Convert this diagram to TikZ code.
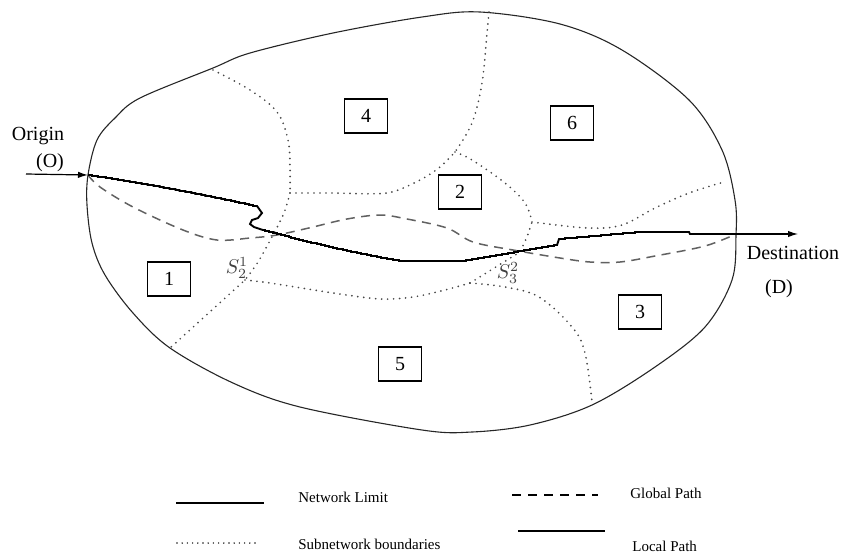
\documentclass[tikz,border=0pt]{standalone}
\usepackage{fontspec}
\setmainfont{Liberation Serif}
\usetikzlibrary{arrows.meta}
\begin{document}
\begin{tikzpicture}[x=0.5pt,y=-0.5pt,
  limit/.style={draw=black!85, line width=0.55pt},
  localpath/.style={draw=black, line width=0.95pt, line join=miter},
  globalpath/.style={draw=black!62, line width=0.75pt, dash pattern=on 4.5pt off 3.2pt},
  subnet/.style={draw=black!72, line width=0.95pt, dash pattern=on 0pt off 3pt, line cap=round},
  region/.style={draw=black, line width=0.6pt, minimum width=21.5pt, minimum height=17pt, inner sep=0pt, font=\fontsize{10}{12}\selectfont},
  lbl/.style={font=\fontsize{10}{12}\selectfont, inner sep=0pt},
  slbl/.style={font=\fontsize{10}{12}\selectfont, inner sep=0pt, text=black!75},
  leg/.style={font=\fontsize{7.5}{9}\selectfont, inner sep=0pt, anchor=west},
  arr/.style={draw=black, line width=0.6pt, -{Latex[length=5pt,width=3.2pt]}}
]
\useasboundingbox (0,0) rectangle (844,558);

% key points
\coordinate (O) at (88,175);
\coordinate (D) at (736,234);
\coordinate (Ostart) at (26,174);
\coordinate (Dend) at (798,234);
\coordinate (J1) at (290,193);
\coordinate (J2) at (245,280);
\coordinate (J3) at (455,152);
\coordinate (J4) at (532,222);
\coordinate (J5) at (470,283);

% network limit
\draw[limit] plot[smooth cycle, tension=0.55] coordinates {
  (88,175) (97,140) (115,118) (140,98) (213,68) (250,53) (333,33) (422,17)
  (480,12) (560,24) (622,50) (689,100) (722,150) (735,200) (736,235)
  (732,280) (705,327) (655,367) (592,405) (530,425) (472,432) (422,430)
  (300,407) (233,383) (170,348) (133,313) (105,275) (92,243) (87,205)};

% subnetwork boundaries
\draw[subnet] plot[smooth, tension=0.6] coordinates {(213,70) (250,90) (277,112) (288,140) (290,167) (J1)};
\draw[subnet] plot[smooth, tension=0.5] coordinates {(J1) (284,213) (273,235) (258,262) (J2)} -- (170,348);
\draw[subnet] plot[smooth, tension=0.5] coordinates {(J2) (270,283) (333,293) (380,299) (413,297) (445,290) (J5)};
\draw[subnet] (J5) -- (520,252) -- (527,237) -- (J4);
\draw[subnet] plot[smooth, tension=0.6] coordinates {(J5) (505,287) (539,297) (572,327) (585,353) (592,402)};
\draw[subnet] plot[smooth, tension=0.6] coordinates {(J3) (472,160) (505,183) (525,203) (J4)};
\draw[subnet] plot[smooth, tension=0.6] coordinates {(489,12) (487,33) (482,83) (472,123) (J3)};
\draw[subnet] plot[smooth, tension=0.5] coordinates {(J1) (333,193) (387,193) (420,180) (440,167) (J3)};
\draw[subnet] plot[smooth, tension=0.6] coordinates {(J4) (540,223) (589,228) (622,225) (655,208) (689,193) (724,182)};

% global path
\draw[globalpath] plot[smooth, tension=0.55] coordinates {
  (O) (100,187) (133,207) (183,230) (217,240) (250,238) (277,235) (313,227)
  (347,219) (380,215) (407,219) (447,228) (473,242) (513,250) (560,258)
  (590,262) (620,262) (655,256) (705,246) (D)};

% local path (pixel staircase)
\draw[localpath] (O)
  -- plot[const plot, domain=88:257, samples=86] (\x, {round(175+0.15*(\x-88)+0.00022*(\x-88)*(\x-88))})
  -- (262,213) -- (258,218) -- (252,220) -- (250,224) -- (254,227) -- (263,230)
  -- plot[const plot, domain=263:403, samples=71] (\x, {round(230+0.28*(\x-263)-0.0004*(\x-263)*(\x-263))})
  -- (462,261)
  -- plot[const plot, domain=462:556, samples=48] (\x, {round(261-0.17*(\x-462))})
  -- (557,245) -- (559,239)
  -- plot[const plot, domain=559:639, samples=41] (\x, {round(239-0.0875*(\x-559))})
  -- (689,232) -- (690,234) -- (D);

% origin / destination arrows
\draw[arr] (Ostart) -- (O);
\draw[arr] (D) -- (Dend);

\node[lbl] (origin) at (38,136) {Origin};
\node[lbl] (olab) at (50,163) {(O)};
\node[lbl] (dest) at (793,253) {Destination};
\node[lbl] (dlab) at (779,289) {(D)};

% regions
\node[region] (r1) at (169,279) {1};
\node[region] (r2) at (460,192) {2};
\node[region] (r3) at (640,312) {3};
\node[region] (r4) at (366,116) {4};
\node[region] (r5) at (400,364) {5};
\node[region] (r6) at (572,123) {6};

\node[slbl] (s21) at (237,268) {$S_2^1$};
\node[slbl] (s32) at (508,273) {$S_3^2$};

% legend
\coordinate (l1a) at (176,503); \coordinate (l1b) at (264,503);
\coordinate (l2a) at (177,543); \coordinate (l2b) at (258,543);
\coordinate (l3a) at (512,495); \coordinate (l3b) at (598,495);
\coordinate (l4a) at (518,531); \coordinate (l4b) at (605,531);
\draw[limit, draw=black] (l1a) -- (l1b);
\draw[subnet, draw=black!90, line width=0.8pt, dash pattern=on 0pt off 2.6pt] (l2a) -- (l2b);
\draw[globalpath, draw=black, dash pattern=on 4.5pt off 3.5pt] (l3a) -- (l3b);
\draw[localpath] (l4a) -- (l4b);
\node[leg] (t1) at (298,497) {Network Limit};
\node[leg] (t2) at (298,544) {Subnetwork boundaries};
\node[leg] (t3) at (630,493) {Global Path};
\node[leg] (t4) at (632,546) {Local Path};
\end{tikzpicture}
\end{document}
